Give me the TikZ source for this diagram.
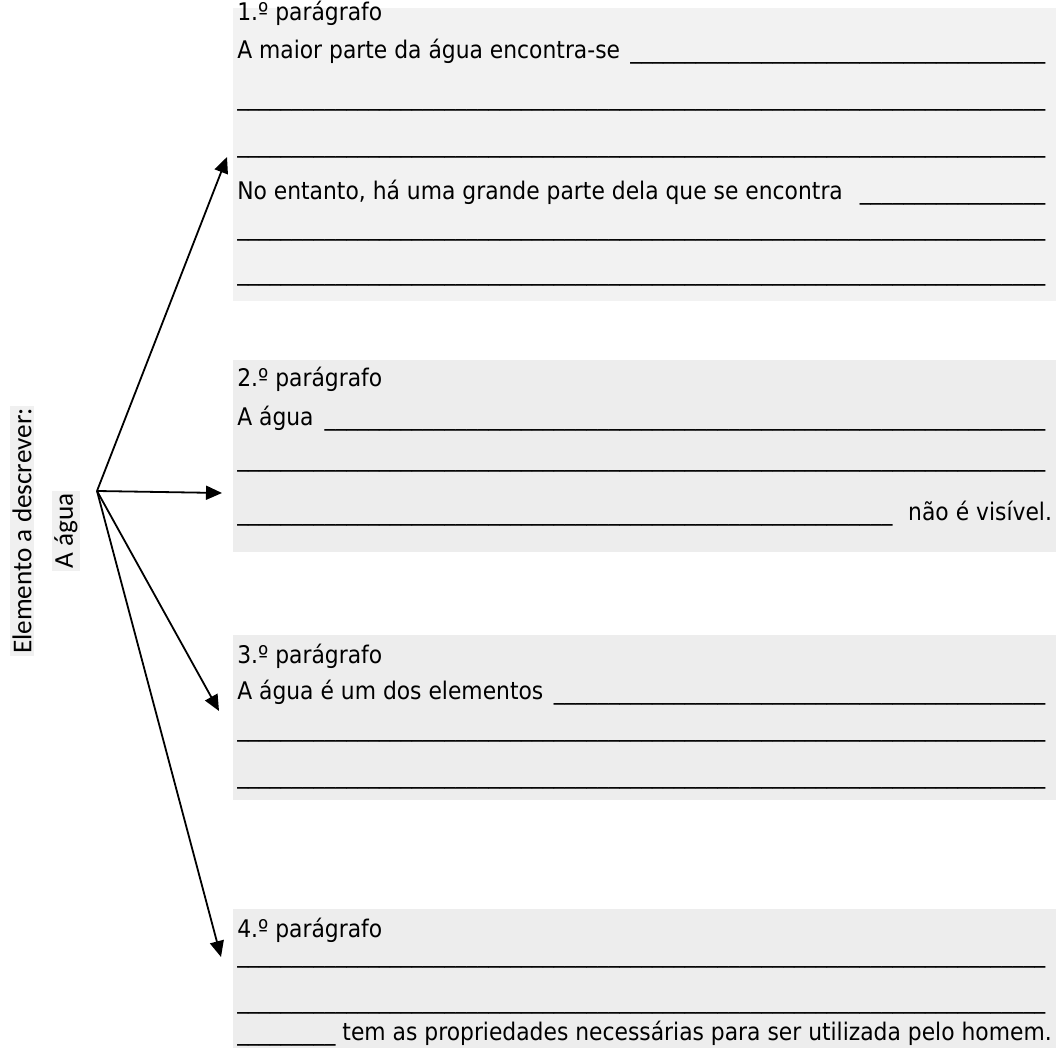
\documentclass[tikz,border=0pt]{standalone}
\usepackage{fontspec}
\setmainfont{DejaVu Sans}[FakeStretch=0.9]
\newfontfamily\labelfont{Carlito}
\usetikzlibrary{arrows.meta}
\definecolor{boxgray}{RGB}{242,242,242}
\definecolor{boxgrayb}{RGB}{237,237,237}
\definecolor{labelgray}{RGB}{240,240,240}
\newcommand{\fillrow}{\leaders\hbox{\_}\hfill}
\newcommand{\rowbox}[1]{\hbox to 611pt{#1}}
\tikzset{
  row/.style={anchor=base west, inner sep=0pt, font=\fontsize{18.2}{22}\selectfont},
  panel/.style={draw=none},
  link/.style={line width=1.35pt, -{Triangle[length=12pt,width=10.5pt]}},
  vlabel/.style={rotate=90, fill=labelgray, inner sep=1.5pt, font=\labelfont\fontsize{20.4}{24}\selectfont},
}
\begin{document}
\begin{tikzpicture}[x=0.75pt,y=-0.75pt]
\useasboundingbox (0,0) rectangle (1056,1048);
% panels
\fill[panel,boxgray]  (233,8)   rectangle (1056,301);
\fill[panel,boxgrayb] (233,360) rectangle (1056,552);
\fill[panel,boxgrayb] (233,635) rectangle (1056,800);
\fill[panel,boxgrayb] (233,909) rectangle (1056,1048);
% paragraph 1
\node[row] (p1t) at (237,21)  {1.º parágrafo};
\node[row] (p1a) at (237,59)  {\rowbox{A maior parte da água encontra-se \fillrow}};
\node[row] (p1b) at (237,106) {\rowbox{\fillrow}};
\node[row] (p1c) at (237,153) {\rowbox{\fillrow}};
\node[row] (p1d) at (237,200) {\rowbox{No entanto, há uma grande parte dela que se encontra \fillrow}};
\node[row] (p1e) at (237,236) {\rowbox{\fillrow}};
\node[row] (p1f) at (237,281) {\rowbox{\fillrow}};
% paragraph 2
\node[row] (p2t) at (237,387) {2.º parágrafo};
\node[row] (p2a) at (237,425) {\rowbox{A água\hspace{5pt}\fillrow}};
\node[row] (p2b) at (237,466) {\rowbox{\fillrow}};
\node[row] (p2c) at (237,520) {\rowbox{\fillrow\ não é visível.}};
% paragraph 3
\node[row] (p3t) at (237,663) {3.º parágrafo};
\node[row] (p3a) at (237,699) {\rowbox{A água é um dos elementos \fillrow}};
\node[row] (p3b) at (237,736) {\rowbox{\fillrow}};
\node[row] (p3c) at (237,783) {\rowbox{\fillrow}};
% paragraph 4
\node[row] (p4t) at (237,937) {4.º parágrafo};
\node[row] (p4a) at (237,962) {\rowbox{\fillrow}};
\node[row] (p4b) at (237,1008) {\rowbox{\fillrow}};
\node[row] (p4c) at (237,1040) {\rowbox{\_\_\_\_\_\_\_\_\_ tem as propriedades necessárias para ser utilizada pelo homem.\hfill}};
% labels
\node[vlabel] (elem) at (22,531) {Elemento a descrever:};
\node[vlabel] (agua) at (66,531) {A água};
% arrows
\coordinate (o) at (97,491);
\coordinate (t1) at (227,157);
\coordinate (t2) at (222,493);
\coordinate (t3) at (219,711);
\coordinate (t4) at (221,957);
\draw[link] (o) -- (t1);
\draw[link] (o) -- (t2);
\draw[link] (o) -- (t3);
\draw[link] (o) -- (t4);
\end{tikzpicture}
\end{document}
